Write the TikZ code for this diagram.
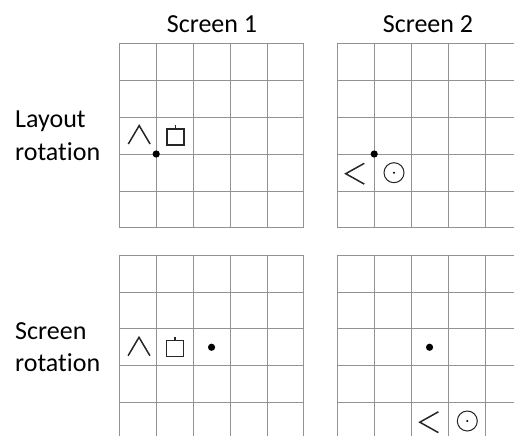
\documentclass[tikz,border=0pt]{standalone}
\usepackage{fontspec}
\setmainfont{Carlito}[Ligatures={NoCommon}]
\begin{document}
\begin{tikzpicture}[x=1pt,y=-1pt,font=\fontsize{26}{33}\selectfont,
  gridline/.style={gray!85,line width=0.8pt},
  glyph/.style={line width=1.5pt,black!85,line join=miter},
  label/.style={inner sep=0pt,anchor=base west},
  head/.style={inner sep=0pt,anchor=base},
  pics/upcaret/.style={code={\draw[glyph] (-10.9,9.2)--(0,-9.2)--(10.9,9.2);}},
  pics/leftcaret/.style={code={\draw[glyph] (9.3,-10.4)--(-9.3,0)--(9.3,10.4);}},
  pics/tabbox/.style={code={\draw[glyph] (-8.5,-8) rectangle (8.5,8); \draw[glyph] (0,-8)--(0,-12);}},
  pics/eye/.style={code={\draw[line width=1pt,black!85] (0,0) circle (10); \fill (0,0) circle (1.1);}}]
\useasboundingbox (0,0) rectangle (514,436);
\clip (0,0) rectangle (514,436);
\def\cell{36.9}
% headings
\node[head] (scrA) at (212,32.3) {Screen 1};
\node[head] (scrB) at (428,32.3) {Screen 2};
\node[label] (layA) at (15,127) {Layout};
\node[label] (layB) at (15,160) {rotation};
\node[label] (rotA) at (15,339.3) {Screen};
\node[label] (rotB) at (15,371.7) {rotation};
% grids
\foreach \gx/\gy in {119.3/43.3,337.3/43.3,119.3/255,337.3/255} {
\begin{scope}[shift={(\gx,\gy)}]
\foreach \i in {0,...,5} {
  \draw[gridline] (\i*\cell,0)--(\i*\cell,5*\cell);
  \draw[gridline] (0,\i*\cell)--(5*\cell,\i*\cell);
}
\end{scope}
}
% layout rotation, screen 1
\begin{scope}[shift={(119.3,43.3)}]
\pic at (19.9,91.5) {upcaret};
\pic at (56,93.7) {tabbox};
\fill (\cell,3*\cell) circle (3.6);
\end{scope}
% layout rotation, screen 2
\begin{scope}[shift={(337.3,43.3)}]
\fill (\cell,3*\cell) circle (3.6);
\pic at (17.7,130.4) {leftcaret};
\pic at (56.7,129.4) {eye};
\end{scope}
% screen rotation, screen 1
\begin{scope}[shift={(119.3,255)}]
\pic at (19.7,91.5) {upcaret};
\pic at (55.7,93.5) {tabbox};
\fill (2.5*\cell,2.5*\cell) circle (3.6);
\end{scope}
% screen rotation, screen 2
\begin{scope}[shift={(337.3,255)}]
\fill (2.5*\cell,2.5*\cell) circle (3.6);
\pic at (91.8,167.2) {leftcaret};
\pic at (130,166) {eye};
\end{scope}
\end{tikzpicture}
\end{document}
